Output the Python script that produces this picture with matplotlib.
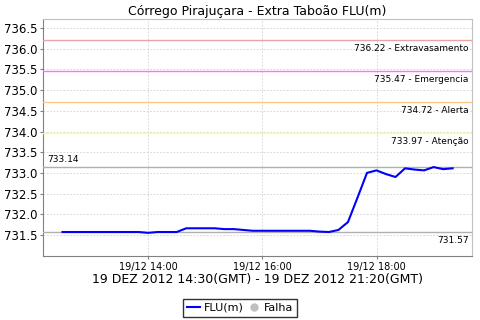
import datetime as dt
import matplotlib
matplotlib.use("Agg")
import matplotlib.pyplot as plt
import matplotlib.dates as mdates
from matplotlib.lines import Line2D

# leituras a cada 10 min, horario local (GMT-2)
start = dt.datetime(2012, 12, 19, 12, 30)
values = [731.57, 731.57, 731.57, 731.57, 731.57, 731.57, 731.57, 731.57, 731.57, 731.55,
          731.57, 731.57, 731.57, 731.66, 731.66, 731.66, 731.66, 731.64, 731.64, 731.62,
          731.60, 731.60, 731.60, 731.60, 731.60, 731.60, 731.60, 731.58, 731.57, 731.62,
          731.81, 732.40, 733.00, 733.06, 732.97, 732.90, 733.11, 733.08, 733.06, 733.14,
          733.09, 733.11]
times = [start + dt.timedelta(minutes=10 * i) for i in range(len(values))]

limits = [736.22, 735.47, 734.72, 733.97]
limit_names = ["Extravasamento", "Emergencia", "Alerta", "Atenção"]
limit_colors = ["#f0a0a0", "#ff70ff", "#ffc880", "#ffff80"]
v_max = 733.14
v_min = 731.57

fig = plt.figure(figsize=(4.8, 3.2), dpi=100)
ax = fig.add_axes([0.0896, 0.2, 0.894, 0.7406])

ax.plot(times, values, color="#0000ff", lw=1.5, zorder=5)
ax.margins(x=0.05)
ax.set_ylim(730.99, 736.72)
ax.set_yticks([731.5, 732.0, 732.5, 733.0, 733.5, 734.0, 734.5, 735.0, 735.5, 736.0, 736.5])
ax.yaxis.set_major_formatter(matplotlib.ticker.FormatStrFormatter("%.1f"))
ax.xaxis.set_major_locator(mdates.HourLocator(byhour=[14, 16, 18]))
ax.xaxis.set_major_formatter(mdates.DateFormatter("%d/%m %H:%M"))

ax.grid(True, color="#d0d0d0", ls=(0, (2, 2)), lw=0.6)
ax.set_axisbelow(True)
for s in ["top", "right"]:
    ax.spines[s].set_color("#c0c0c0")
for s in ["left", "bottom"]:
    ax.spines[s].set_color("#808080")
ax.tick_params(axis="y", labelsize=8.5, length=2, color="#808080", pad=2)
ax.tick_params(axis="x", labelsize=7, length=2, color="#808080", pad=2)

for v, name, c in zip(limits, limit_names, limit_colors):
    ax.axhline(v, color=c, lw=1.0, zorder=3)
    ax.annotate("%.2f - %s" % (v, name), xy=(1, v), xycoords=("axes fraction", "data"),
                xytext=(-2.5, -3), textcoords="offset points", ha="right", va="top", fontsize=6.5)

ax.axhline(v_max, color="#b0b0b0", lw=1.0, zorder=3)
ax.annotate("%.2f" % v_max, xy=(0, v_max), xycoords=("axes fraction", "data"),
            xytext=(3, 2), textcoords="offset points", ha="left", va="bottom", fontsize=6.5)
ax.axhline(v_min, color="#b0b0b0", lw=1.0, zorder=3)
ax.annotate("%.2f" % v_min, xy=(1, v_min), xycoords=("axes fraction", "data"),
            xytext=(-2.5, -3), textcoords="offset points", ha="right", va="top", fontsize=6.5)

ax.set_title("Córrego Pirajuçara - Extra Taboão FLU(m)", fontsize=9, pad=3)
ax.set_xlabel("19 DEZ 2012 14:30(GMT) - 19 DEZ 2012 21:20(GMT)", fontsize=9, labelpad=1)

handles = [Line2D([], [], color="#0000ff", lw=1.5),
           Line2D([], [], color="#c0c0c0", marker="o", ls="none", markersize=5)]
leg = fig.legend(handles, ["FLU(m)", "Falha"], loc="lower center", bbox_to_anchor=(0.5, 0.0),
                 ncol=2, fontsize=8, frameon=True, fancybox=False, handlelength=1.2,
                 handletextpad=0.3, columnspacing=0.3, borderpad=0.35, borderaxespad=0.3)
leg.get_frame().set_edgecolor("black")
leg.get_frame().set_linewidth(1.0)

fig.savefig("out.png", dpi=100)
